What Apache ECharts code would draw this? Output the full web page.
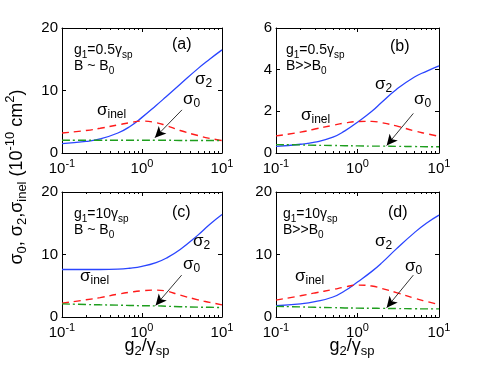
<!DOCTYPE html>
<html>
<head>
<meta charset="utf-8">
<script src="https://cdn.jsdelivr.net/npm/echarts@6/dist/echarts.min.js"></script>
<style>
	html, body { margin: 0; padding: 0; background: #fff; }
	#chart { width: 485px; height: 372px; }
</style>
</head>
<body>
<div id="chart"></div>
<script>
// x 取样点 (g2/γsp)
const xs = [0.1, 0.2, 0.3, 0.5, 0.7, 1, 1.5, 2, 3, 5, 7, 10];

// (a) g1=0.5γsp, B ~ B0
const sig2A = [1.5, 1.85, 2.25, 3.2, 4.2, 5.7, 7.6, 9.0, 11.0, 13.5, 15.0, 16.5];
const inelA = [3.2, 3.6, 3.95, 4.5, 4.85, 5.1, 4.85, 4.4, 3.6, 2.8, 2.35, 2.0];
const sig0A = [2.05, 2.05, 2.05, 2.05, 2.05, 2.05, 2.05, 2.05, 2.0, 2.0, 2.0, 2.0];

// (b) g1=0.5γsp, B>>B0
const sig2B = [0.32, 0.42, 0.52, 0.76, 1.06, 1.48, 2.0, 2.45, 3.05, 3.65, 3.92, 4.18];
const inelB = [0.82, 1.0, 1.15, 1.33, 1.44, 1.51, 1.52, 1.45, 1.3, 1.06, 0.93, 0.8];
const sig0B = [0.4, 0.39, 0.37, 0.36, 0.35, 0.34, 0.33, 0.33, 0.32, 0.31, 0.3, 0.3];

// (c) g1=10γsp, B ~ B0
const sig2C = [7.6, 7.6, 7.6, 7.65, 7.8, 8.1, 8.7, 9.4, 10.8, 13.1, 14.8, 16.4];
const inelC = [2.2, 2.75, 3.1, 3.65, 3.95, 4.2, 4.3, 4.15, 3.5, 2.75, 2.35, 1.95];
const sig0C = [2.1, 2.0, 1.95, 1.9, 1.85, 1.8, 1.78, 1.72, 1.65, 1.58, 1.55, 1.5];

// (d) g1=10γsp, B>>B0
const sig2D = [1.8, 2.1, 2.45, 3.2, 4.2, 5.6, 7.3, 8.7, 10.9, 13.5, 15.0, 16.3];
const inelD = [2.7, 3.4, 3.85, 4.4, 4.8, 5.1, 4.95, 4.55, 3.9, 3.0, 2.5, 2.0];
const sig0D = [1.7, 1.62, 1.55, 1.5, 1.45, 1.42, 1.4, 1.38, 1.35, 1.32, 1.3, 1.3];

// 箭头 (数据坐标: 起点 -> 终点)
const arrowA = [[3.16, 6.9], [1.45, 2.45]];
const arrowB = [[4.84, 1.9], [2.28, 0.36]];
const arrowC = [[3.13, 6.7], [1.48, 1.85]];
const arrowD = [[4.84, 6.7], [2.28, 1.5]];

// 对数轴刻度
const majorTicks = [0.1, 1, 10];
const minorTicks = [0.2, 0.3, 0.4, 0.5, 0.6, 0.7, 0.8, 0.9, 2, 3, 4, 5, 6, 7, 8, 9];

const FONT = 'Liberation Sans, Arial, Helvetica, sans-serif';

const panels = [
	{ sig2: sig2A, inel: inelA, sig0: sig0A, ymax: 20, step: 10, arrow: arrowA,
		grid: { left: 62, top: 28, width: 160, height: 125 } },
	{ sig2: sig2B, inel: inelB, sig0: sig0B, ymax: 6, step: 2, arrow: arrowB,
		grid: { left: 276, top: 28, width: 163, height: 125 } },
	{ sig2: sig2C, inel: inelC, sig0: sig0C, ymax: 20, step: 10, arrow: arrowC,
		grid: { left: 62, top: 192, width: 160, height: 125 } },
	{ sig2: sig2D, inel: inelD, sig0: sig0D, ymax: 20, step: 10, arrow: arrowD,
		grid: { left: 276, top: 192, width: 163, height: 125 } },
];

const black = { color: '#000', width: 1 };

// 上下标样式
const rich = {
	n: { fontSize: 14, fontFamily: FONT, fill: '#000' },
	sb: { fontSize: 10, fontFamily: FONT, fill: '#000', padding: [10, 0, 0, 0] },
	M: { fontSize: 16, fontFamily: FONT, fill: '#000' },
	L: { fontSize: 17, fontFamily: FONT, fill: '#000' },
	Lsb: { fontSize: 12, fontFamily: FONT, fill: '#000', padding: [10, 0, 0, 0] },
	Y: { fontSize: 18, fontFamily: FONT, fill: '#000' },
	Ysb: { fontSize: 13, fontFamily: FONT, fill: '#000', padding: [11, 0, 0, 0] },
	Ysp: { fontSize: 13, fontFamily: FONT, fill: '#000', padding: [0, 0, 13, 0] },
};

function txt(x, y, text, align, rotation) {
	return {
		type: 'text', x: x, y: y, rotation: rotation || 0, z: 100,
		style: {
			text: text, rich: rich, fill: '#000', font: '14px ' + FONT,
			align: align || 'left', textAlign: align || 'left',
			verticalAlign: 'middle', textVerticalAlign: 'middle',
		},
	};
}

const xAxis = [];
const yAxis = [];
const series = [];

panels.forEach((p, i) => {
	// x 轴：下方主刻度(带标签)、下方次刻度、上方主刻度、上方次刻度
	['bottom', 'top'].forEach((pos) => {
		[majorTicks, minorTicks].forEach((ticks, k) => {
			xAxis.push({
				gridIndex: i, type: 'log', logBase: 10, min: 0.1, max: 10, position: pos,
				axisLine: { show: k === 0, onZero: false, lineStyle: black },
				axisTick: { show: true, inside: true, length: k === 0 ? 4 : 2, customValues: ticks, lineStyle: black },
				axisLabel: {
					show: pos === 'bottom' && k === 0, margin: 5, customValues: majorTicks,
					formatter: (v) => '{b|10}{p|' + Math.round(Math.log10(v)) + '}',
					rich: {
						b: { fontSize: 15, fontFamily: FONT, color: '#000' },
						p: { fontSize: 11, fontFamily: FONT, color: '#000', padding: [0, 0, 11, 0] },
					},
				},
				splitLine: { show: false },
				minorTick: { show: false },
			});
		});
	});
	// y 轴：左侧(带标签)、右侧
	['left', 'right'].forEach((pos) => {
		yAxis.push({
			gridIndex: i, type: 'value', min: 0, max: p.ymax, interval: p.step, position: pos,
			axisLine: { show: true, onZero: false, lineStyle: black },
			axisTick: { show: true, inside: true, length: 4, lineStyle: black },
			axisLabel: { show: pos === 'left', margin: 4, color: '#000', fontSize: 15, fontFamily: FONT },
			splitLine: { show: false },
		});
	});
	const xi = i * 4;
	const yi = i * 2;
	const pts = (arr) => xs.map((x, j) => [x, arr[j]]);
	series.push({
		type: 'line', xAxisIndex: xi, yAxisIndex: yi, data: pts(p.sig2), smooth: 0.5,
		showSymbol: false, lineStyle: { color: '#2a45ff', width: 1.3 },
	});
	series.push({
		type: 'line', xAxisIndex: xi, yAxisIndex: yi, data: pts(p.inel), smooth: 0.5,
		showSymbol: false, lineStyle: { color: '#ff1a1a', width: 1.4, type: [7, 5] },
	});
	series.push({
		type: 'line', xAxisIndex: xi, yAxisIndex: yi, data: pts(p.sig0), smooth: 0.5,
		showSymbol: false, lineStyle: { color: '#1e9e1e', width: 1.4, type: [8, 3, 2, 3] },
		markLine: {
			silent: true, symbol: ['none', 'arrow'], symbolSize: [8, 11],
			lineStyle: { color: '#000', width: 0.8, type: 'solid' },
			itemStyle: { color: '#000' },
			label: { show: false },
			data: [[{ coord: p.arrow[0] }, { coord: p.arrow[1] }]],
		},
	});
});

// 注释文字
const graphic = [
	// (a)
	txt(74, 50, '{n|g}{sb|1}{n|=0.5γ}{sb|sp}'),
	txt(74, 66, '{n|B ~ B}{sb|0}'),
	txt(172, 45, '{M|(a)}'),
	txt(195, 79, '{L|σ}{Lsb|2}'),
	txt(183, 99, '{L|σ}{Lsb|0}'),
	txt(97, 110, '{L|σ}{Lsb|inel}'),
	// (b)
	txt(286, 50, '{n|g}{sb|1}{n|=0.5γ}{sb|sp}'),
	txt(286, 66, '{n|B>>B}{sb|0}'),
	txt(390, 47, '{M|(b)}'),
	txt(375, 84, '{L|σ}{Lsb|2}'),
	txt(414, 99, '{L|σ}{Lsb|0}'),
	txt(301, 115, '{L|σ}{Lsb|inel}'),
	// (c)
	txt(74, 214, '{n|g}{sb|1}{n|=10γ}{sb|sp}'),
	txt(74, 230, '{n|B ~ B}{sb|0}'),
	txt(172, 213, '{M|(c)}'),
	txt(193, 241, '{L|σ}{Lsb|2}'),
	txt(183, 264, '{L|σ}{Lsb|0}'),
	txt(80, 276, '{L|σ}{Lsb|inel}'),
	// (d)
	txt(283, 214, '{n|g}{sb|1}{n|=10γ}{sb|sp}'),
	txt(283, 230, '{n|B>>B}{sb|0}'),
	txt(388, 213, '{M|(d)}'),
	txt(375, 241, '{L|σ}{Lsb|2}'),
	txt(405, 266, '{L|σ}{Lsb|0}'),
	txt(295, 276, '{L|σ}{Lsb|inel}'),
	// 坐标轴标题
	txt(147, 346, '{Y|g}{Ysb|2}{Y|/γ}{Ysb|sp}', 'center'),
	txt(352, 346, '{Y|g}{Ysb|2}{Y|/γ}{Ysb|sp}', 'center'),
	txt(17, 177, '{Y|σ}{Ysb|0}{Y|, σ}{Ysb|2}{Y|,σ}{Ysb|inel}{Y| (10}{Ysp|-10}{Y| cm}{Ysp|2}{Y|)}', 'center', Math.PI / 2),
];

const myChart = echarts.init(document.getElementById('chart'));
myChart.setOption({
	animation: false,
	backgroundColor: '#fff',
	grid: panels.map((p) => p.grid),
	xAxis: xAxis,
	yAxis: yAxis,
	series: series,
	graphic: graphic,
});
</script>
</body>
</html>
